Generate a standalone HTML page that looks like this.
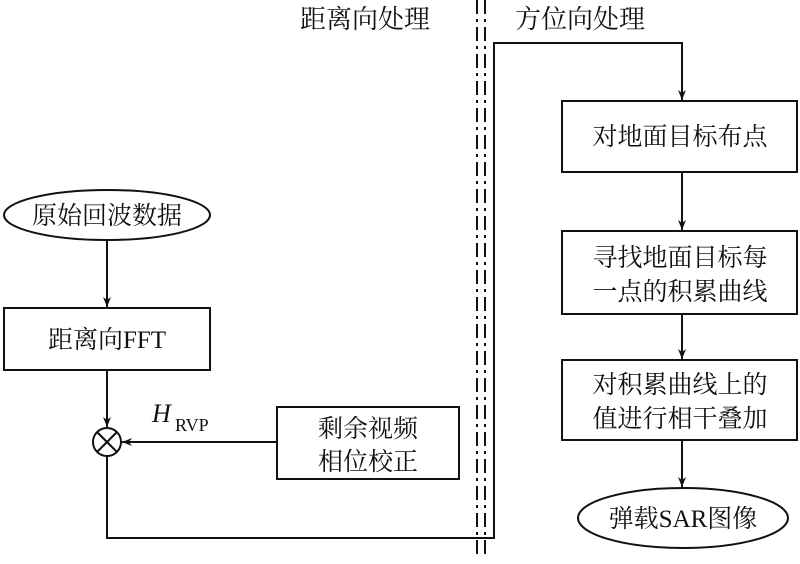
<!DOCTYPE html>
<html><head><meta charset="utf-8"><style>
body{margin:0;background:#fff}
text{font-family:"Liberation Serif","Noto Serif CJK SC",serif;fill:#111}
</style></head><body>
<svg width="800" height="559" viewBox="0 0 800 559" xmlns="http://www.w3.org/2000/svg">
<defs><marker id="a" viewBox="0 0 10 10" refX="10" refY="5" markerWidth="10" markerHeight="10" markerUnits="userSpaceOnUse" orient="auto"><path d="M0,1 L10,5 L0,9 L3,5z" fill="#111"/></marker></defs>
<g font-size="26">
<text x="300" y="28">距离向处理</text>
<text x="515" y="28">方位向处理</text>
</g>
<g stroke="#111" stroke-width="2" stroke-dasharray="14,5,3,5">
<line x1="477" y1="0" x2="477" y2="559"/><line x1="485" y1="0" x2="485" y2="559"/>
</g>
<g fill="none" stroke="#111" stroke-width="2">
<ellipse cx="107" cy="215" rx="103" ry="25"/>
<rect x="4" y="308" width="206" height="62"/>
<circle cx="107" cy="442" r="14"/>
<line x1="97" y1="432" x2="117" y2="452"/><line x1="117" y1="432" x2="97" y2="452"/>
<rect x="277" y="407" width="182" height="72"/>
<rect x="562" y="101" width="235" height="71"/>
<rect x="562" y="231" width="235" height="83"/>
<rect x="562" y="360" width="235" height="80"/>
<ellipse cx="683" cy="518" rx="105" ry="30"/>
<line x1="107" y1="240" x2="107" y2="307" marker-end="url(#a)"/>
<line x1="107" y1="370" x2="107" y2="427" marker-end="url(#a)"/>
<line x1="277" y1="442" x2="122" y2="442" marker-end="url(#a)"/>
<polyline points="107,456 107,538 494,538 494,43 682,43 682,100" marker-end="url(#a)"/>
<line x1="682" y1="172" x2="682" y2="230" marker-end="url(#a)"/>
<line x1="682" y1="314" x2="682" y2="359" marker-end="url(#a)"/>
<line x1="682" y1="440" x2="682" y2="487" marker-end="url(#a)"/>
</g>
<g font-size="25" text-anchor="middle">
<text x="107" y="224">原始回波数据</text>
<text x="107" y="348">距离向FFT</text>
<text x="368" y="437">剩余视频</text>
<text x="368" y="470">相位校正</text>
<text x="680" y="145">对地面目标布点</text>
<text x="680" y="266">寻找地面目标每</text>
<text x="680" y="300">一点的积累曲线</text>
<text x="680" y="393">对积累曲线上的</text>
<text x="680" y="427">值进行相干叠加</text>
<text x="683" y="527">弹载SAR图像</text>
</g>
<text x="152" y="422" font-size="26" font-style="italic">H</text>
<text x="175" y="431" font-size="18">RVP</text>
</svg>
</body></html>
